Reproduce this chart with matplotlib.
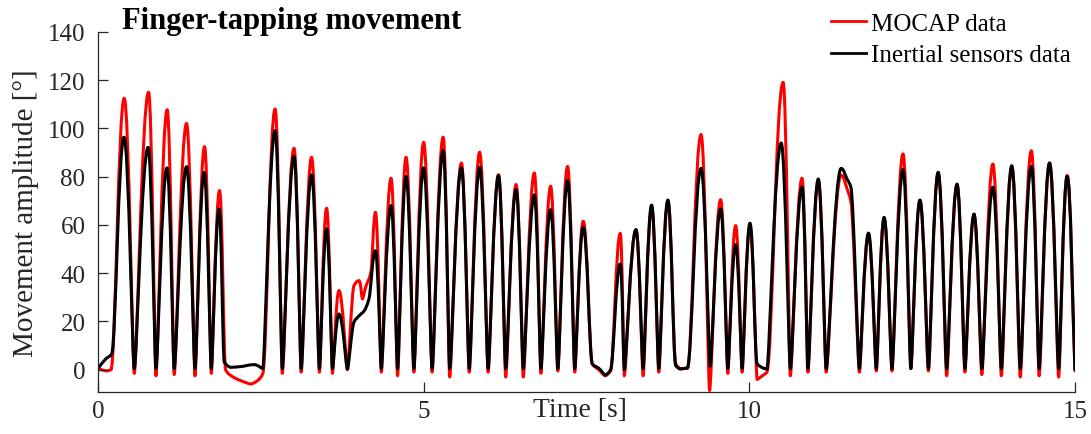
import numpy as np
import matplotlib
matplotlib.use("Agg")
import matplotlib.pyplot as plt
from matplotlib.path import Path
from matplotlib.patches import PathPatch
from matplotlib.lines import Line2D

# ---------------- data (key points) ----------------
mocap_t = [0.00, 0.13, 0.20, 0.404, 0.557, 0.777, 0.89, 1.063, 1.17, 1.36, 1.49, 1.636, 1.74, 1.866,
           1.96, 2.04, 2.19, 2.35, 2.45, 2.53, 2.72, 2.83, 3.01, 3.12, 3.28, 3.40, 3.51, 3.60, 3.70,
           3.83, 3.93, 4.01, 4.06, 4.11, 4.19, 4.26, 4.35, 4.50, 4.60, 4.73, 4.85, 5.00, 5.13, 5.30,
           5.40, 5.58, 5.70, 5.86, 5.99, 6.15, 6.26, 6.42, 6.53, 6.70, 6.80, 6.95, 7.06, 7.21, 7.32,
           7.45, 7.59, 7.69, 7.79, 7.87, 8.02, 8.08, 8.26, 8.37, 8.50, 8.61, 8.75, 8.87, 8.94, 9.05,
           9.26, 9.39, 9.56, 9.67, 9.79, 9.89, 10.01, 10.12, 10.20, 10.27, 10.52, 10.63, 10.81, 10.90,
           11.06, 11.18, 11.41, 11.50, 11.56, 11.69, 11.83, 11.95, 12.07, 12.19, 12.36, 12.48, 12.62,
           12.75, 12.90, 13.03, 13.19, 13.31, 13.45, 13.57, 13.74, 13.87, 14.03, 14.16, 14.33, 14.45,
           14.61, 14.75, 14.88, 15.00]
mocap_v = [0.5, -0.5, 0.0, 112.4, -1.5, 114.9, -2.5, 107.7, -2.0, 102.0, -2.5, 92.4, -1.5, 74.2,
           0.0, -2.4, -4.5, -5.9, -4.5, -1.7, 108.0, -1.5, 91.7, -1.0, 88.0, -1.0, 66.9, -1.5, 32.8,
           0.0, 34.8, 36.9, 29.3, 34.2, 40.4, 65.2, -1.0, 79.3, -2.5, 88.0, -1.0, 94.2, -1.0, 96.3,
           -3.0, 85.6, -1.0, 90.1, -1.0, 80.8, -3.0, 76.7, -3.0, 81.5, -1.5, 76.0, -0.5, 84.2, -1.0,
           61.5, 2.4, 0.0, -2.5, -0.5, 56.5, -2.5, 58.0, -2.5, 67.5, -1.0, 69.5, 2.5, 0.5, 0.5,
           97.4, -8.6, 70.4, -1.5, 59.7, -1.0, 59.5, -4.0, -2.5, -1.0, 119.0, -2.5, 79.3, -1.0,
           78.0, -1.0, 80.6, 75.0, 69.6, -1.0, 56.0, -0.5, 62.5, -0.5, 89.4, 0.5, 70.0,
           -0.5, 81.5, -2.5, 76.5, -1.0, 64.0, -2.0, 85.2, -2.5, 84.0, -3.0, 90.7, -2.5,
           85.6, -3.0, 80.5, -0.5]

imu_t = [0.00, 0.12, 0.21, 0.40, 0.557, 0.77, 0.89, 1.06, 1.17, 1.36, 1.49, 1.63, 1.74, 1.86,
         1.94, 2.04, 2.19, 2.40, 2.53, 2.72, 2.83, 3.01, 3.12, 3.28, 3.40, 3.51, 3.60, 3.70,
         3.83, 3.93, 4.01, 4.09, 4.16, 4.26, 4.35, 4.50, 4.60, 4.73, 4.85, 5.00, 5.13, 5.30,
         5.40, 5.58, 5.70, 5.86, 5.99, 6.15, 6.26, 6.42, 6.53, 6.70, 6.80, 6.95, 7.06, 7.21, 7.32,
         7.45, 7.59, 7.69, 7.79, 7.87, 8.02, 8.08, 8.26, 8.37, 8.50, 8.61, 8.75, 8.87, 8.94, 9.05,
         9.26, 9.40, 9.56, 9.67, 9.79, 9.89, 10.01, 10.12, 10.27, 10.49, 10.63, 10.81, 10.90,
         11.06, 11.18, 11.41, 11.50, 11.56, 11.69, 11.83, 11.95, 12.07, 12.19, 12.36, 12.48, 12.62,
         12.75, 12.90, 13.03, 13.19, 13.31, 13.45, 13.57, 13.74, 13.87, 14.03, 14.16, 14.33, 14.45,
         14.61, 14.75, 14.88, 15.00]
imu_v = [0.5, 4.5, 6.5, 96.3, 0.5, 92.1, 0.5, 83.6, 0.5, 84.1, 0.5, 81.8, 0.5, 66.6,
         3.1, 1.0, 1.3, 2.1, 0.5, 99.0, 0.5, 88.4, 0.5, 80.7, 0.5, 58.3, 0.5, 23.1,
         0.3, 19.7, 22.4, 24.5, 29.3, 49.3, 0.5, 68.0, 0.5, 80.1, 0.5, 83.6, 0.5, 90.7,
         0.5, 83.6, 0.5, 83.8, 0.5, 80.4, 0.5, 74.6, 0.5, 72.4, 0.5, 66.3, 0.5, 78.3, 0.5,
         59.0, 2.4, 0.6, -2.2, 0.0, 43.8, 0.0, 58.0, 0.5, 68.2, 0.5, 70.3, 1.7, 0.3, 0.9,
         83.4, 1.5, 66.6, 0.5, 51.8, 0.5, 60.7, 2.4, 0.3, 93.9, 0.5, 75.6, 0.5,
         79.0, 0.5, 83.4, 79.0, 75.6, 0.5, 56.6, 0.5, 63.1, 0.5, 82.9, 0.5, 70.3,
         0.5, 81.8, 0.5, 76.9, 0.5, 64.5, 0.5, 75.6, 0.5, 84.5, 0.5, 84.2, 0.5,
         85.6, 0.5, 80.1, 0.0]

series_labels = ["MOCAP data", "Inertial sensors data"]
series_colors = ["#ff0000", "#000000"]
x_ticks = [0, 5, 10, 15]
y_ticks = [0, 20, 40, 60, 80, 100, 120, 140]
title_text = "Finger-tapping movement"
x_label = "Time [s]"
y_label = "Movement amplitude [°]"


def smooth_path(x, y, trough_handle=0.18, peak_handle=0.45):
    """Smooth curve through the key points drawn as cubic Bezier segments.
    Tangents are flat at local extrema; the Bezier handles are short at
    troughs and long at peaks (curve tension style)."""
    x = np.asarray(x, float)
    y = np.asarray(y, float)
    n = len(x)
    h = np.diff(x)
    d = np.diff(y) / h
    m = np.zeros(n)
    kind = np.zeros(n, int)  # -1 trough, +1 peak, 0 other
    for k in range(1, n - 1):
        if d[k - 1] * d[k] > 0:
            w1 = 2 * h[k] + h[k - 1]
            w2 = h[k] + 2 * h[k - 1]
            m[k] = (w1 + w2) / (w1 / d[k - 1] + w2 / d[k])
        elif d[k - 1] < 0 <= d[k]:
            kind[k] = -1
        elif d[k - 1] > 0 >= d[k]:
            kind[k] = 1
    m[0] = d[0]
    m[-1] = d[-1]

    def handle(k):
        if kind[k] == -1:
            return trough_handle
        if kind[k] == 1:
            return peak_handle
        return 1 / 3

    verts = [(x[0], y[0])]
    codes = [Path.MOVETO]
    for k in range(n - 1):
        a = handle(k) * h[k]
        b = handle(k + 1) * h[k]
        verts += [(x[k] + a, y[k] + m[k] * a),
                  (x[k + 1] - b, y[k + 1] - m[k + 1] * b),
                  (x[k + 1], y[k + 1])]
        codes += [Path.CURVE4] * 3
    return Path(verts, codes)


plt.rcParams['font.family'] = ['Liberation Serif', 'DejaVu Serif']

fig = plt.figure(figsize=(10.91, 4.35), dpi=100)
ax = fig.add_axes([0.0898, 0.0972, 0.8955, 0.8276])

dark = "#262626"
lw = 2.2
for (tt, vv), col in zip([(mocap_t, mocap_v), (imu_t, imu_v)], series_colors):
    patch = PathPatch(smooth_path(tt, vv), fill=False, edgecolor=col, lw=lw,
                      joinstyle='round', capstyle='round', transform=ax.transData)
    ax.add_patch(patch)

ax.set_xlim(0, 15)
ax.set_ylim(-9.1, 140)
ax.set_xticks(x_ticks)
ax.set_yticks(y_ticks)
ax.spines['top'].set_visible(False)
ax.spines['right'].set_visible(False)
for s in ('left', 'bottom'):
    ax.spines[s].set_color(dark)
    ax.spines[s].set_linewidth(0.9)
ax.tick_params(direction='in', length=7, width=0.9, color=dark, labelcolor=dark,
               labelsize=18)
ax.tick_params(axis='x', pad=6)
ax.tick_params(axis='y', pad=9)

ax.set_xlabel(x_label, fontsize=20, color=dark)
ax.xaxis.set_label_coords(0.493, -0.015)
ax.set_ylabel(y_label, fontsize=21, color=dark)
ax.yaxis.set_label_coords(-0.060, 0.5)

fig.text(122 / 1091, 1 - 29 / 435, title_text, fontsize=22, fontweight='bold',
         va='baseline', ha='left', color='black')

handles = [Line2D([], [], color=c, lw=2.0) for c in series_colors]
ax.legend(handles, series_labels, loc='upper right', bbox_to_anchor=(1073 / 1091, 1 - 11 / 435),
          bbox_transform=fig.transFigure, frameon=False, fontsize=18,
          handlelength=1.4, handletextpad=0.2, labelspacing=0.35, borderaxespad=0.0,
          borderpad=0.1)

fig.savefig("out.png", dpi=100)
